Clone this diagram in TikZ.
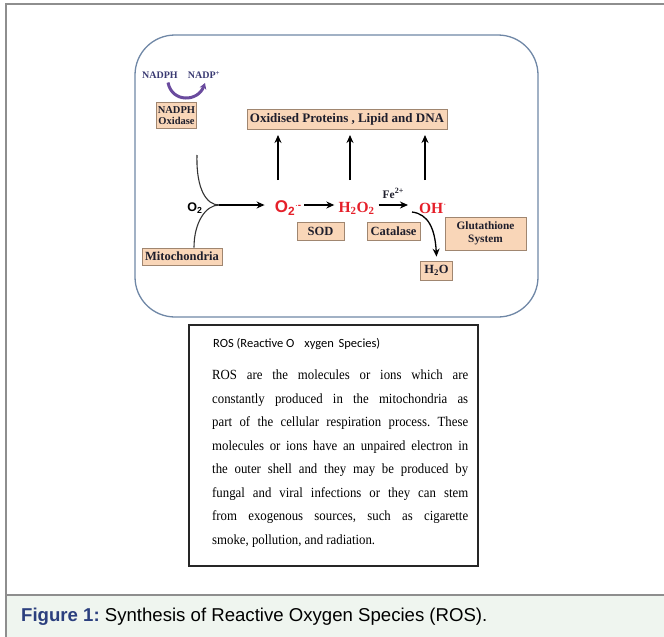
\documentclass[tikz,border=0pt]{standalone}
\usepackage{fontspec}
\setmainfont{Liberation Serif}
\newfontfamily\capfont{Liberation Sans}
\newfontfamily\headfont{Carlito}
\newfontfamily\bodyfont[FakeStretch=0.915]{Liberation Serif}
\usetikzlibrary{arrows.meta}
\definecolor{boxfill}{HTML}{F9D6B8}
\definecolor{boxdraw}{HTML}{A08670}
\definecolor{frame}{HTML}{8E8E8E}
\definecolor{capfill}{HTML}{EFF5EF}
\definecolor{capblue}{HTML}{2B3F7E}
\definecolor{roundc}{HTML}{6F87A6}
\definecolor{rosred}{HTML}{E5202A}
\definecolor{navy}{HTML}{3A3A72}
\definecolor{arcpurple}{HTML}{6A4B9E}
\definecolor{ink}{HTML}{1E1E2C}
\begin{document}
\frenchspacing
\begin{tikzpicture}[x=1pt,y=-1pt,
  lbox/.style={draw=boxdraw, fill=boxfill, line width=0.8pt, text=ink, align=center,
     inner sep=1pt, font=\bfseries\fontsize{12.5}{13}\selectfont},
  arr/.style={-{Stealth[length=8pt,width=7pt]}, line width=1.7pt, draw=black},
  thin/.style={line width=1.1pt, draw=black!80},
  species/.style={text=rosred, inner sep=1pt, font=\bfseries\fontsize{15.5}{17}\selectfont}]
\useasboundingbox (0,0) rectangle (664,637);
% outer frame and caption band
\fill[capfill] (6,595) rectangle (664,637);
\draw[frame, line width=1.5pt] (6,637) -- (6,4) -- (664,4);
\draw[frame, line width=1.5pt] (6,595) -- (664,595);
\node[anchor=base west, inner sep=0, font=\capfont\fontsize{18.6}{20}\selectfont] (cap) at (21,621)
  {\textcolor{capblue}{\textbf{Figure 1:}} Synthesis of Reactive Oxygen Species (ROS).};
% rounded panel
\draw[roundc, line width=1.3pt, rounded corners=40pt] (135,35) rectangle (538,317);
% NADPH cycle
\node[text=navy, inner sep=0, font=\bfseries\fontsize{10}{10}\selectfont] (nadph) at (160,75) {NADPH};
\node[text=navy, inner sep=0, font=\bfseries\fontsize{10}{10}\selectfont] (nadpp) at (204,75) {NADP\textsuperscript{+}};
\draw[arcpurple, line width=3pt, -{Stealth[length=6pt,width=7pt]}] ([xshift=8pt,yshift=-4pt]nadph.south) .. controls (172,103) and (198,102) .. ([xshift=1pt,yshift=-4pt]nadpp.south);
\node[lbox, minimum width=40pt, minimum height=26pt, font=\bfseries\fontsize{10.5}{11.5}\selectfont] (nox) at (176.5,115.5) {NADPH\\Oxidase};
\node[lbox, minimum width=200pt, minimum height=20pt, font=\bfseries\fontsize{13}{13}\selectfont] (oxid) at (347,119) {Oxidised Proteins , Lipid and DNA};
% O2 input
\node[inner sep=0, font=\capfont\bfseries\fontsize{12.5}{12}\selectfont] (o2) at (195,208) {O\textsubscript{2}};
\node[lbox, minimum width=80pt, minimum height=17pt] (mito) at (182,256.5) {Mitochondria};
\coordinate (j) at (219,205);
\coordinate (ctop) at (197,155);
\draw[thin] (ctop) .. controls (196,190) and (207,205) .. (j);
\draw[thin] ([xshift=12pt]mito.north) .. controls (194,222) and (206,205) .. (j);
% species
\node[species, font=\capfont\bfseries\fontsize{17}{18}\selectfont] (o2r) at (288,208) {O\textsubscript{2}\raisebox{4pt}{\fontsize{10}{10}\selectfont$\cdot$-}};
\node[species] (h2o2) at (356.5,208) {H\textsubscript{2}O\textsubscript{2}};
\node[species] (oh) at (433,208) {OH\textsuperscript{$\cdot$}};
\draw[arr] (j) -- ([xshift=-9pt]o2r.west |- j);
\draw[arr] ([xshift=2pt]o2r.east |- j) -- ([xshift=-3pt]h2o2.west |- j);
\draw[arr] ([xshift=3pt]h2o2.east |- j) -- ([xshift=-10pt]oh.west |- j) node[midway, above=6pt, text=ink, font=\bfseries\fontsize{11.5}{11}\selectfont, inner sep=0] (fe) {Fe\textsuperscript{2+}};
% enzyme boxes
\node[lbox, minimum width=47pt, minimum height=18pt] (sod) at (320.5,231) {SOD};
\node[lbox, minimum width=53pt, minimum height=18pt] (cat) at (393.5,231) {Catalase};
\node[lbox, minimum width=81pt, minimum height=33pt, font=\bfseries\fontsize{11.3}{13}\selectfont] (glut) at (485.5,233.5) {Glutathione\\System};
\node[lbox, minimum width=32pt, minimum height=19pt] (h2o) at (436.5,270.5) {H\textsubscript{2}O};
\coordinate (ohs) at (412,212);
\draw[arr, line width=1.3pt] (ohs) .. controls (428,214) and (435,228) .. ([yshift=4pt]h2o.north);
% upward arrows
\foreach \x/\n in {278/a,350/b,425/c}{
  \coordinate (lo\n) at (\x,180);
  \coordinate (hi\n) at (\x,135);
  \draw[arr] (lo\n) -- (hi\n);
}
% ROS text box
\draw[black!85, line width=1.2pt] (189,325) rectangle (478,566);
\node[anchor=west, inner sep=0, font=\headfont\fontsize{12.5}{13}\selectfont] (head) at (213,344)
  {ROS (Reactive O\hspace{10pt}xygen\hspace{2pt} Species)};
\node[anchor=north west, inner sep=0, align=left, font=\bodyfont\fontsize{14}{23.5}\selectfont] (body) at (212,370)
  {\makebox[256pt][s]{ROS are the molecules or ions which are}\\
   \makebox[256pt][s]{constantly produced in the mitochondria as}\\
   \makebox[256pt][s]{part of the cellular respiration process. These}\\
   \makebox[256pt][s]{molecules or ions have an unpaired electron in}\\
   \makebox[256pt][s]{the outer shell and they may be produced by}\\
   \makebox[256pt][s]{fungal and viral infections or they can stem}\\
   \makebox[256pt][s]{from exogenous sources, such as cigarette}\\
   smoke, pollution, and radiation.};
\end{tikzpicture}
\end{document}
